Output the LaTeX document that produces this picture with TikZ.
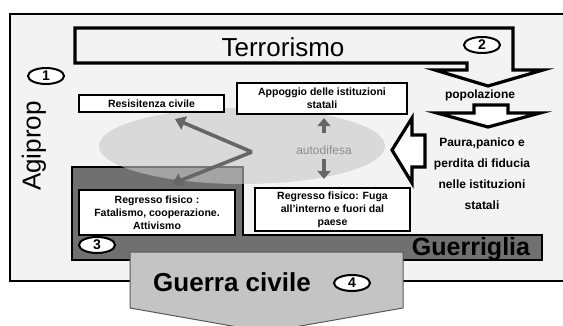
\documentclass[tikz,border=0pt]{standalone}
\usepackage{fontspec}
\setmainfont{Liberation Sans}
\usepackage{xcolor}
\usepackage{tikz}
\usetikzlibrary{arrows.meta}
\usetikzlibrary{shapes.geometric}

\definecolor{framegray}{HTML}{F3F3F3}
\definecolor{darkreg}{HTML}{707070}
\definecolor{civgray}{HTML}{C4C4C4}
\definecolor{ellgray}{HTML}{C8C8C8}
\definecolor{arrgray}{HTML}{666666}

\begin{document}
\begin{tikzpicture}[x=1pt, y=-1pt,
  box/.style={draw, line width=2.2pt, fill=white, align=center, inner sep=1pt,
    font=\bfseries\fontsize{10.5}{13}\selectfont},
  num/.style={draw, ellipse, line width=2pt, fill=white, minimum width=36pt,
    minimum height=16pt, inner sep=0pt, font=\bfseries\fontsize{14}{14}\selectfont},
  bigarrow/.style={draw, line width=3.2pt, line join=miter},
  grayarrow/.style={draw=arrgray, line width=3.6pt, -{Triangle[width=14pt,length=10pt]}},
  autoarrow/.style={draw=arrgray, line width=4pt, -{Triangle[width=13pt,length=8pt]}}]

\useasboundingbox (0,0) rectangle (563,325);
\clip (0,0) rectangle (563,325);

\draw[line width=2.8pt, fill=framegray] (10,14) rectangle (575,281);

\path[bigarrow, fill=framegray] (75,28) -- (513,28) -- (513,70) -- (543,70) -- (488,86)
  -- (435,70) -- (467,70) -- (467,63) -- (75,63) -- cycle;
\path[bigarrow, fill=white] (474,105) -- (508,105) -- (508,113) -- (540,113) -- (488,127)
  -- (437,113) -- (474,113) -- cycle;
\path[bigarrow, fill=white] (425,135) -- (412,135) -- (412,118) -- (392,150) -- (412,183)
  -- (412,167) -- (425,167) -- cycle;

\draw[fill=darkreg, line width=1.4pt] (72,167) -- (243,167) -- (243,235) -- (542,235)
  -- (542,260) -- (72,260) -- cycle;

\fill[ellgray, opacity=0.6] (242,146) ellipse [x radius=143, y radius=38];

\node[box, minimum width=145pt, minimum height=17pt] (resist) at (151.5,103.5) {Resisitenza civile};
\node[box, minimum width=170pt, minimum height=31pt] (appog) at (322,98.5) {Appoggio delle istituzioni\\statali};
\node[box, minimum width=156pt, minimum height=45pt] (fatal) at (157,212.5) {Regresso fisico :\\Fatalismo, cooperazione.\\Attivismo};
\node[box, minimum width=155pt, minimum height=43pt] (fuga) at (332.5,209.5) {Regresso fisico: Fuga\\all'interno e fuori dal\\paese};

\node[text=arrgray!75, font=\fontsize{12}{12}\selectfont] (auto) at (324,150) {autodifesa};
\draw[autoarrow, shorten <=9pt, shorten >=3pt] (auto.north) -- (auto.north |- appog.south);
\draw[autoarrow, shorten <=1pt, shorten >=8pt] (auto.south) -- (auto.south |- fuga.north);

\coordinate (v) at (252,152);
\draw[grayarrow] (v) -- ([xshift=23.5pt, yshift=-6pt]resist.south);
\draw[grayarrow] (v) -- ([xshift=15pt, yshift=5pt]fatal.north);

\node[font=\bfseries\fontsize{12}{12}\selectfont] (pop) at (480,95) {popolazione};
\node[align=center, font=\bfseries\fontsize{12}{21}\selectfont] (paura) at (482,174) {Paura,panico e\\perdita di fiducia\\nelle istituzioni\\statali};

\node[rotate=90, font=\fontsize{26}{26}\selectfont] (agi) at (34,146) {Agiprop};
\node[font=\fontsize{26}{26}\selectfont] (terr) at (283,47.5) {Terrorismo};
\node[font=\bfseries\fontsize{25}{25}\selectfont] (guer) at (471,249) {Guerriglia};

\path[draw=gray!70!black, fill=civgray, line width=1pt] (130,252) -- (403,252) -- (403,308)
  -- (266,332) -- (130,308) -- cycle;
\node[font=\bfseries\fontsize{26}{26}\selectfont] (civ) at (232,282.5) {Guerra civile};

\node[num] (n1) at (46,76) {1};
\node[num] (n2) at (482,45) {2};
\node[num] (n3) at (97,245) {3};
\node[num] (n4) at (352,283) {4};

\end{tikzpicture}
\end{document}
